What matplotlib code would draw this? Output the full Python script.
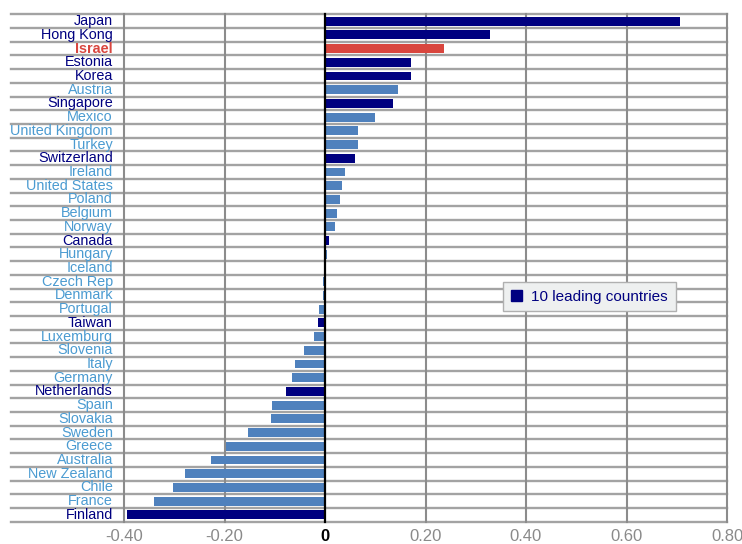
import matplotlib
matplotlib.use("Agg")
import matplotlib.pyplot as plt
from matplotlib.patches import Patch

plt.rcParams['font.family'] = ['Liberation Sans', 'DejaVu Sans']

countries = ["Japan", "Hong Kong", "Israel", "Estonia", "Korea", "Austria", "Singapore",
             "Mexico", "United Kingdom", "Turkey", "Switzerland", "Ireland", "United States",
             "Poland", "Belgium", "Norway", "Canada", "Hungary", "Iceland", "Czech Rep",
             "Denmark", "Portugal", "Taiwan", "Luxemburg", "Slovenia", "Italy", "Germany",
             "Netherlands", "Spain", "Slovakia", "Sweden", "Greece", "Australia",
             "New Zealand", "Chile", "France", "Finland"]
values = [0.707, 0.328, 0.237, 0.171, 0.171, 0.145, 0.135,
          0.100, 0.065, 0.065, 0.060, 0.040, 0.034,
          0.030, 0.024, 0.020, 0.008, 0.003, 0.001, -0.004,
          -0.004, -0.012, -0.013, -0.022, -0.042, -0.060, -0.066,
          -0.078, -0.106, -0.108, -0.153, -0.197, -0.227,
          -0.279, -0.302, -0.340, -0.394]
leading = ["Japan", "Hong Kong", "Estonia", "Korea", "Singapore", "Switzerland",
           "Canada", "Taiwan", "Netherlands", "Finland"]
highlight = "Israel"
xticks = [-0.4, -0.2, 0.0, 0.2, 0.4, 0.6, 0.8]
xtick_labels = ["-0.40", "-0.20", "0", "0.20", "0.40", "0.60", "0.80"]
legend_label = "10 leading countries"

NAVY = "#000080"
MID = "#4f81bd"
RED = "#d9463e"
LBL = "#4b9bd1"

W, H = 742, 544
fig = plt.figure(figsize=(W / 100, H / 100), dpi=100)
ax = fig.add_axes([11 / W, (H - 521.7) / H, (727 - 11) / W, (521.7 - 14.3) / H])

n = len(countries)
ys = list(range(n))
bar_colors = []
for c in countries:
    if c == highlight:
        bar_colors.append(RED)
    elif c in leading:
        bar_colors.append(NAVY)
    else:
        bar_colors.append(MID)

ax.barh(ys, values, height=0.64, color=bar_colors, zorder=3)

xmin = -0.4 - (124 - 11) / 502.5
ax.set_xlim(xmin, 0.8)
ax.set_ylim(n - 0.5, -0.5)

# row separators
for i in range(n + 1):
    ax.axhline(i - 0.5, color="#a3a3a3", lw=1.7, zorder=1, clip_on=False)
# vertical gridlines
for t in xticks:
    if t == 0:
        continue
    ax.plot([t, t], [n - 0.5, -0.5], color="#8c8c8c", lw=1.5, zorder=2, clip_on=False)
ax.plot([0, 0], [n - 0.5, -0.5], color="black", lw=1.6, zorder=4, clip_on=False)

for s in ax.spines.values():
    s.set_visible(False)
ax.set_yticks([])
ax.set_xticks(xticks)
ax.set_xticklabels(xtick_labels)
ax.tick_params(axis="x", length=0, pad=5, labelsize=12, labelcolor="#8a8a8a")
for lab in ax.get_xticklabels():
    if lab.get_text() == "0":
        lab.set_color("black")
        lab.set_fontweight("bold")

for y, c in zip(ys, countries):
    if c == highlight:
        col, fw = RED, "bold"
    elif c in leading:
        col, fw = NAVY, "normal"
    else:
        col, fw = LBL, "normal"
    ax.text(-0.422, y, c, ha="right", va="center", fontsize=10.4, color=col,
            fontweight=fw, zorder=5)

leg = ax.legend(handles=[Patch(facecolor=NAVY, edgecolor=NAVY, label=legend_label)],
                loc="upper left", bbox_to_anchor=((503 - 11) / (727 - 11), 1 - (282 - 14.3) / (521.7 - 14.3)),
                fontsize=11, frameon=True, fancybox=False, handlelength=0.75, handleheight=0.75,
                handletextpad=0.6, borderpad=0.5, borderaxespad=0)
leg.get_frame().set_facecolor("#eef0f0")
leg.get_frame().set_edgecolor("#b0b0b0")
leg.get_frame().set_alpha(1)
leg.set_zorder(10)
for t in leg.get_texts():
    t.set_color(NAVY)

fig.savefig("out.png", dpi=100)
